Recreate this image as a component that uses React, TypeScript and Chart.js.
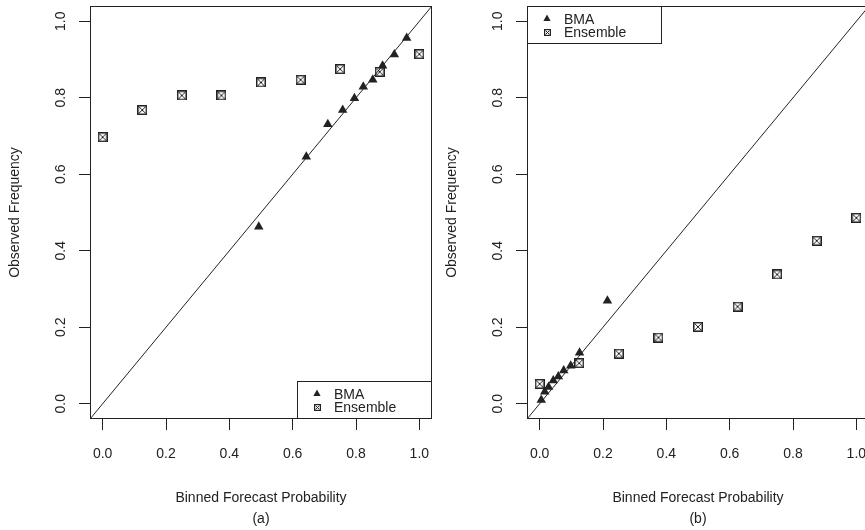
import React, { useEffect, useRef } from "react";
import { Chart, registerables } from "chart.js";

Chart.register(...registerables);

// ---- data ----
const TICKS = [0, 0.2, 0.4, 0.6, 0.8, 1.0];
const TICK_LABELS = ["0.0", "0.2", "0.4", "0.6", "0.8", "1.0"];
const AXIS_RANGE = [-0.04, 1.04];

const A_BMA_X = [0.493, 0.643, 0.711, 0.758, 0.795, 0.823, 0.853, 0.884, 0.921, 0.96];
const A_BMA_Y = [0.463, 0.646, 0.731, 0.768, 0.799, 0.829, 0.847, 0.884, 0.913, 0.956];
const A_ENS_X = [0, 0.125, 0.25, 0.375, 0.5, 0.625, 0.75, 0.875, 1.0];
const A_ENS_Y = [0.697, 0.768, 0.806, 0.806, 0.84, 0.847, 0.875, 0.868, 0.914];

const B_BMA_X = [0.005, 0.016, 0.028, 0.043, 0.059, 0.076, 0.098, 0.126, 0.214];
const B_BMA_Y = [0.01, 0.031, 0.044, 0.061, 0.071, 0.087, 0.099, 0.133, 0.269];
const B_ENS_X = [0, 0.125, 0.25, 0.375, 0.5, 0.625, 0.75, 0.875, 1.0];
const B_ENS_Y = [0.052, 0.106, 0.131, 0.173, 0.201, 0.254, 0.338, 0.426, 0.486];

const LEGEND_LABELS = ["BMA", "Ensemble"];
const X_TITLE = "Binned Forecast Probability";
const Y_TITLE = "Observed Frequency";

const INK = "#222";
const FONT = '14px "Liberation Sans", Arial, sans-serif';

function boxCrossImage(size: number, lw: number): HTMLCanvasElement {
  const c = document.createElement("canvas");
  c.width = size;
  c.height = size;
  const g = c.getContext("2d")!;
  g.strokeStyle = INK;
  g.lineWidth = lw;
  const o = lw / 2;
  g.strokeRect(o, o, size - lw, size - lw);
  g.lineWidth = 1;
  g.beginPath();
  g.moveTo(o + 1, o + 1);
  g.lineTo(size - o - 1, size - o - 1);
  g.moveTo(size - o - 1, o + 1);
  g.lineTo(o + 1, size - o - 1);
  g.stroke();
  return c;
}

function zip(xs: number[], ys: number[]) {
  return xs.map((x, i) => ({ x, y: ys[i] }));
}

const rPlotPlugin = {
  id: "rPlot",
  afterDraw(chart: any) {
    const opts = chart.options.plugins.rPlot;
    const ctx: CanvasRenderingContext2D = chart.ctx;
    const { left, right, top, bottom } = chart.chartArea;
    const xs = chart.scales.x;
    const ys = chart.scales.y;
    ctx.save();
    ctx.strokeStyle = INK;
    ctx.fillStyle = INK;
    ctx.lineWidth = 1;
    // box
    ctx.strokeRect(Math.round(left) + 0.5, Math.round(top) + 0.5, Math.round(right - left) - 1, Math.round(bottom - top) - 1);
    ctx.font = FONT;
    // y tick labels (rotated)
    TICKS.forEach((v, i) => {
      const y = ys.getPixelForValue(v);
      ctx.save();
      ctx.translate(left - 25, y);
      ctx.rotate(-Math.PI / 2);
      ctx.textAlign = "center";
      ctx.textBaseline = "alphabetic";
      ctx.fillText(TICK_LABELS[i], 0, 0);
      ctx.restore();
    });
    // x tick labels
    ctx.textAlign = "center";
    ctx.textBaseline = "alphabetic";
    TICKS.forEach((v, i) => {
      const x = xs.getPixelForValue(v);
      ctx.fillText(TICK_LABELS[i], x, bottom + 39);
    });
    const cx = (left + right) / 2;
    ctx.fillText(X_TITLE, cx, bottom + 83);
    ctx.fillText(opts.sub, cx, bottom + 104);
    // y title
    ctx.save();
    ctx.translate(left - 71, (top + bottom) / 2);
    ctx.rotate(-Math.PI / 2);
    ctx.textAlign = "center";
    ctx.fillText(Y_TITLE, 0, 0);
    ctx.restore();
    // legend
    const w = 135;
    const h = 38;
    let bx: number, by: number;
    if (opts.legend === "bottomright") {
      bx = Math.round(right - w);
      by = Math.round(bottom - h);
    } else {
      bx = Math.round(left);
      by = Math.round(top);
    }
    ctx.fillStyle = "#fff";
    ctx.fillRect(bx + 0.5, by + 0.5, w - 1, h - 1);
    ctx.strokeRect(bx + 0.5, by + 0.5, w - 1, h - 1);
    ctx.fillStyle = INK;
    const sx = bx + 20;
    const r1 = by + 12.5;
    const r2 = by + 26;
    // triangle
    ctx.beginPath();
    ctx.moveTo(sx, r1 - 4);
    ctx.lineTo(sx + 3.6, r1 + 2.5);
    ctx.lineTo(sx - 3.6, r1 + 2.5);
    ctx.closePath();
    ctx.fill();
    // box with cross
    ctx.drawImage(opts.legendImg, Math.round(sx - 3.5), Math.round(r2 - 3.5));
    ctx.textAlign = "left";
    ctx.textBaseline = "alphabetic";
    ctx.fillText(LEGEND_LABELS[0], bx + 37, r1 + 5);
    ctx.fillText(LEGEND_LABELS[1], bx + 37, r2 + 5);
    ctx.restore();
  },
};

function Panel(props: {
  bmaX: number[];
  bmaY: number[];
  ensX: number[];
  ensY: number[];
  sub: string;
  legend: string;
  left: number;
}) {
  const ref = useRef<HTMLCanvasElement>(null);
  useEffect(() => {
    const pointImg = boxCrossImage(10, 1.5);
    const legendImg = boxCrossImage(7, 1.2);
    const axis = (pos: string, isY: boolean) => ({
      type: "linear" as const,
      position: pos,
      min: AXIS_RANGE[0],
      max: AXIS_RANGE[1],
      afterBuildTicks: (scale: any) => {
        scale.ticks = TICKS.map((v) => ({ value: v }));
      },
      afterFit: (scale: any) => {
        if (isY) scale.width = 90;
        else scale.height = 111;
      },
      ticks: { display: false },
      border: { display: false },
      grid: {
        display: true,
        drawOnChartArea: false,
        drawTicks: true,
        tickLength: 11,
        color: INK,
        lineWidth: 1,
      },
    });
    const chart = new Chart(ref.current!, {
      type: "scatter",
      data: {
        datasets: [
          {
            type: "line",
            label: "diag",
            data: zip(AXIS_RANGE, AXIS_RANGE),
            borderColor: INK,
            borderWidth: 1,
            pointRadius: 0,
            fill: false,
          } as any,
          {
            label: LEGEND_LABELS[0],
            data: zip(props.bmaX, props.bmaY),
            pointStyle: "triangle",
            pointRadius: 5.5,
            backgroundColor: INK,
            borderColor: INK,
            borderWidth: 0,
          },
          {
            label: LEGEND_LABELS[1],
            data: zip(props.ensX, props.ensY),
            pointStyle: pointImg as any,
            pointRadius: 5,
          },
        ],
      },
      options: {
        animation: false,
        responsive: false,
        devicePixelRatio: 1,
        layout: { padding: { top: 6, right: 6, left: 0, bottom: 0 } },
        scales: { x: axis("bottom", false) as any, y: axis("left", true) as any },
        plugins: {
          legend: { display: false },
          tooltip: { enabled: false },
          rPlot: { sub: props.sub, legend: props.legend, legendImg },
        } as any,
      },
      plugins: [rPlotPlugin],
    });
    return () => chart.destroy();
  }, []);
  return (
    <canvas
      ref={ref}
      width={438}
      height={530}
      style={{ position: "absolute", left: props.left, top: 0, width: 438, height: 530 }}
    />
  );
}

export default function App() {
  return (
    <div
      style={{
        position: "absolute",
        left: 0,
        top: 0,
        width: 865,
        height: 530,
        overflow: "hidden",
        background: "#fff",
      }}
    >
      <Panel bmaX={A_BMA_X} bmaY={A_BMA_Y} ensX={A_ENS_X} ensY={A_ENS_Y} sub="(a)" legend="bottomright" left={0} />
      <Panel bmaX={B_BMA_X} bmaY={B_BMA_Y} ensX={B_ENS_X} ensY={B_ENS_Y} sub="(b)" legend="topleft" left={437} />
    </div>
  );
}
